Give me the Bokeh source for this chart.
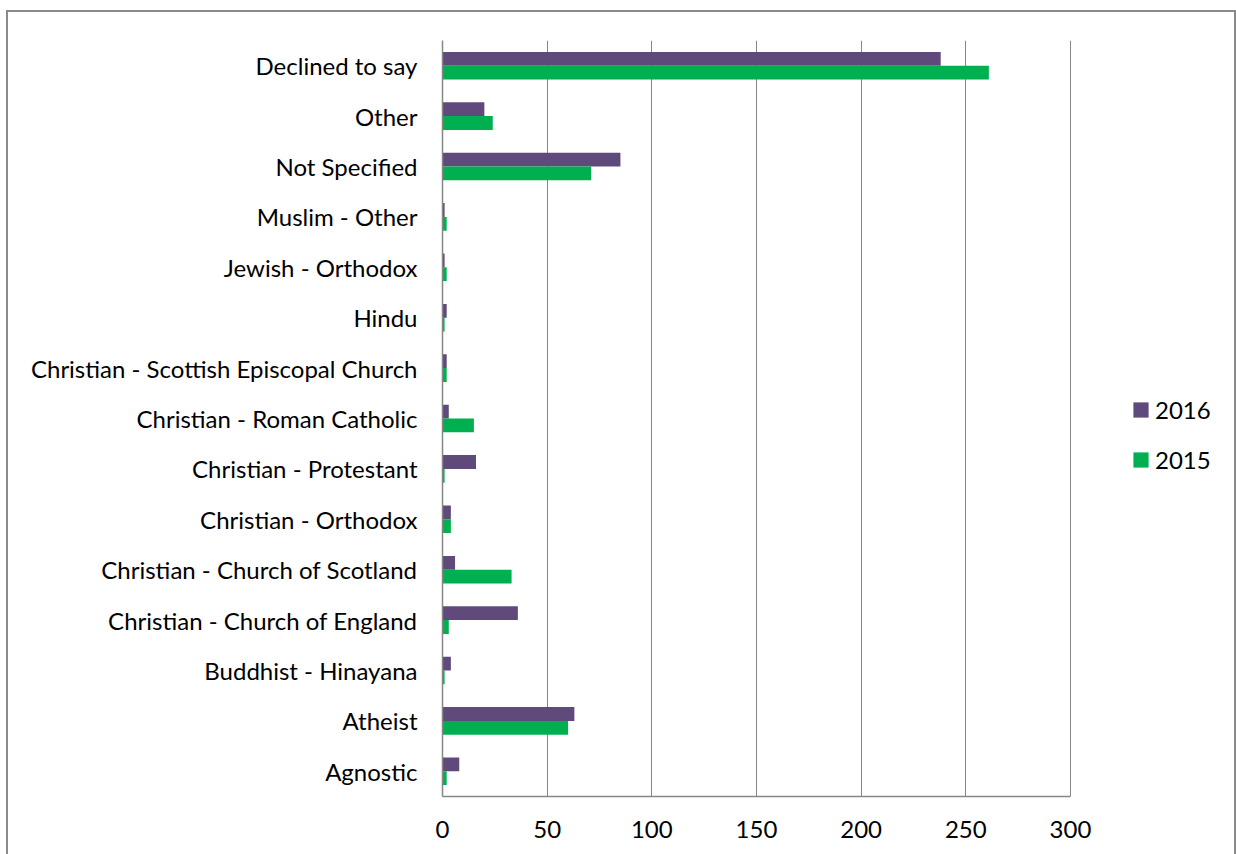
from bokeh.plotting import figure
from bokeh.models import ColumnDataSource, Range1d, FactorRange, Legend, LegendItem, SingleIntervalTicker
from bokeh.transform import dodge
from bokeh.embed import file_html
from bokeh.resources import INLINE

categories = [
    "Declined to say",
    "Other",
    "Not Specified",
    "Muslim - Other",
    "Jewish - Orthodox",
    "Hindu",
    "Christian - Scottish Episcopal Church",
    "Christian - Roman Catholic",
    "Christian - Protestant",
    "Christian - Orthodox",
    "Christian - Church of Scotland",
    "Christian - Church of England",
    "Buddhist - Hinayana",
    "Atheist",
    "Agnostic",
]
values_2016 = [238, 20, 85, 1, 1, 2, 2, 3, 16, 4, 6, 36, 4, 63, 8]
values_2015 = [261, 24, 71, 2, 2, 1, 2, 15, 1, 4, 33, 3, 1, 60, 2]
series_names = ["2016", "2015"]
x_ticks_interval = 50
x_max = 300

FONT = "Lato"
GRAY = "#868686"
PURPLE = "#604A7B"
GREEN = "#00B050"

# layout (pixels)
FRAME_LEFT = 442
AXIS_RIGHT = 1070      # where the value 300 sits
FRAME_RIGHT = 1228     # frame extended to hold the legend
x_end = x_max * (FRAME_RIGHT - FRAME_LEFT) / (AXIS_RIGHT - FRAME_LEFT)

source = ColumnDataSource(dict(cat=categories, v2016=values_2016, v2015=values_2015))

p = figure(
    width=1236, height=854,
    y_range=FactorRange(factors=list(reversed(categories))),
    x_range=Range1d(0, x_end),
    output_backend="svg", toolbar_location=None,
    min_border_left=FRAME_LEFT, min_border_right=1236 - FRAME_RIGHT,
    min_border_top=40, min_border_bottom=58,
)
p.border_fill_color = None
p.background_fill_color = None
p.outline_line_color = None
p.styles = {
    "box-shadow": "inset 6px 0 0 white, inset 0 10px 0 white, inset 8px 0 0 #8a8a8a, inset 0 12px 0 #8a8a8a, inset -2px 0 0 #8a8a8a",
    "background-color": "white",
}

bh = 0.274
r16 = p.hbar(y=dodge("cat", bh / 2, range=p.y_range), right="v2016", left=0, height=bh,
             source=source, fill_color=PURPLE, line_color=None)
r15 = p.hbar(y=dodge("cat", -bh / 2, range=p.y_range), right="v2015", left=0, height=bh,
             source=source, fill_color=GREEN, line_color=None)

# grids
p.ygrid.grid_line_color = None
p.xgrid.grid_line_color = GRAY
p.xgrid.grid_line_width = 1
p.xgrid.bounds = (0, x_max)
p.xaxis.ticker = SingleIntervalTicker(interval=x_ticks_interval)

# x axis
xa = p.xaxis[0]
xa.bounds = (0, x_max)
xa.axis_line_color = GRAY
xa.axis_line_width = 1.5
xa.major_tick_out = 0
xa.major_tick_in = 0
xa.minor_tick_out = 0
xa.minor_tick_in = 0
xa.major_label_text_font = FONT
xa.major_label_text_font_size = "24px"
xa.major_label_text_color = "black"
xa.major_label_standoff = 24

# y axis
ya = p.yaxis[0]
ya.axis_line_color = GRAY
ya.axis_line_width = 1.5
ya.major_tick_out = 0
ya.major_tick_in = 0
ya.minor_tick_out = 0
ya.major_label_text_font = FONT
ya.major_label_text_font_size = "24px"
ya.major_label_text_color = "black"
ya.major_label_standoff = 25

legend = Legend(
    items=[LegendItem(label=series_names[0], renderers=[r16]),
           LegendItem(label=series_names[1], renderers=[r15])],
    location=(689, 322),
    orientation="vertical",
)
legend.margin = 0
legend.padding = 0
legend.border_line_color = None
legend.background_fill_alpha = 0
legend.glyph_width = 19
legend.glyph_height = 19
legend.label_height = 26
legend.spacing = 21
legend.label_standoff = 5
legend.label_text_font = FONT
legend.label_text_font_size = "24px"
legend.label_text_color = "black"
p.add_layout(legend, "center")

open("out.html", "w").write(file_html(p, INLINE))
